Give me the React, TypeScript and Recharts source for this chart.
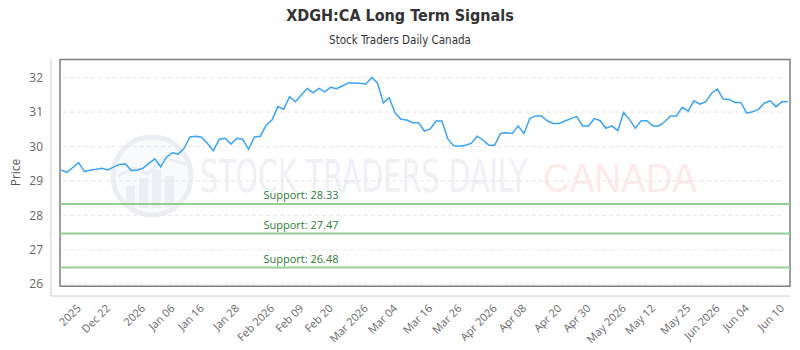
import {
  Line,
  LineChart,
  ReferenceArea,
  ReferenceLine,
  XAxis,
  YAxis,
} from 'recharts'

// closing prices, one per trading day
const prices = [
  29.32, 29.25, 29.39, 29.53, 29.27, 29.32, 29.34, 29.37, 29.32, 29.41,
  29.48, 29.49, 29.3, 29.32, 29.37, 29.51, 29.64, 29.41, 29.69, 29.82,
  29.78, 29.95, 30.28, 30.3, 30.27, 30.09, 29.88, 30.21, 30.24, 30.07,
  30.24, 30.21, 29.92, 30.28, 30.3, 30.62, 30.77, 31.16, 31.08, 31.45,
  31.3, 31.5, 31.69, 31.56, 31.69, 31.59, 31.72, 31.68, 31.76, 31.85,
  31.85, 31.84, 31.81, 32.01, 31.85, 31.27, 31.42, 30.98, 30.79, 30.77,
  30.69, 30.69, 30.45, 30.51, 30.74, 30.74, 30.22, 30.02, 30.01, 30.04,
  30.09, 30.3, 30.19, 30.04, 30.04, 30.38, 30.4, 30.38, 30.6, 30.38,
  30.82, 30.89, 30.89, 30.74, 30.67, 30.67, 30.74, 30.81, 30.87, 30.6,
  30.6, 30.81, 30.75, 30.53, 30.6, 30.46, 30.99, 30.79, 30.53, 30.75,
  30.75, 30.6, 30.6, 30.72, 30.89, 30.89, 31.14, 31.03, 31.33, 31.23,
  31.3, 31.55, 31.67, 31.38, 31.37, 31.28, 31.28, 30.97, 31.01, 31.08,
  31.26, 31.33, 31.16, 31.3, 31.3,
]

const tickLabels = [
  '2025', 'Dec 22', '2026', 'Jan 06', 'Jan 16', 'Jan 28', 'Feb 2026', 'Feb 09',
  'Feb 20', 'Mar 2026', 'Mar 04', 'Mar 16', 'Mar 26', 'Apr 2026', 'Apr 08',
  'Apr 20', 'Apr 30', 'May 2026', 'May 12', 'May 25', 'Jun 2026', 'Jun 04', 'Jun 10',
]
// index of the day each label sits on
const tickIdx = [3, 8, 14, 19, 24, 30, 36, 41, 46, 52, 57, 63, 68, 74, 79, 85, 90, 96, 101, 107, 112, 117, 123]

const supports = [28.33, 27.47, 26.48]
const yTicks = [26, 27, 28, 29, 30, 31, 32]

const data = prices.map((price, i) => ({ i, price }))

// axis extents (the frame sits a bit inside the axes)
const X_MIN = -1.71
const X_MAX = 124.39
const FRAME_X = -0.17
const Y_MIN = 25.654
const Y_MAX = 32.53
const FRAME_Y = 25.94

const tickFont = '"Open Sans", sans-serif'
const titleFont = '"Liberation Sans Narrow", "DejaVu Sans Condensed", sans-serif'

function XTick({ x, y, payload }: any) {
  const k = tickIdx.indexOf(payload.value)
  const tx = x + 3
  const ty = y + 5
  return (
    <text
      x={tx}
      y={ty}
      transform={`rotate(-45 ${tx} ${ty})`}
      textAnchor="end"
      fontSize={11}
      fontFamily={tickFont}
      fill="#666"
    >
      {k >= 0 ? tickLabels[k] : ''}
    </text>
  )
}

function SupportLabel({ viewBox, text }: any) {
  const x = (viewBox?.x ?? 60) + 241
  const y = viewBox?.y ?? 0
  return (
    <text x={x} y={y - 5} textAnchor="middle" fontSize={11} fontFamily={tickFont} fill="#2e7d32">
      {text}
    </text>
  )
}

function PriceLabel({ viewBox }: any) {
  const x = (viewBox?.x ?? 0) + 20
  const y = (viewBox?.y ?? 59.5) + 113
  return (
    <text x={x} y={y} transform={`rotate(-90 ${x} ${y})`} textAnchor="middle" fontSize={12} fontFamily={tickFont} fill="#555">
      Price
    </text>
  )
}

function Watermark() {
  return (
    <svg width={800} height={350} style={{ position: 'absolute', left: 0, top: 0 }}>
      <circle cx={152} cy={176} r={39} fill="#f9fafc" stroke="#eceef3" strokeWidth={5} />
      <rect x={126} y={186} width={9} height={20} fill="#eceef3" />
      <rect x={139} y={178} width={9} height={30} fill="#eceef3" />
      <rect x={152} y={170} width={9} height={38} fill="#eceef3" />
      <rect x={165} y={176} width={9} height={31} fill="#eceef3" />
      <polyline points="118,176 134,168 148,174 164,158 186,164" fill="none" stroke="#eceef3" strokeWidth={3} />
      <text x={200} y={192} fontSize={44} fontFamily={titleFont} fill="#eff1f5" textLength={327} lengthAdjust="spacingAndGlyphs">
        STOCK TRADERS DAILY
      </text>
      <text x={543} y={192} fontSize={40} fontFamily='"Liberation Sans", sans-serif' fill="#fdeaea" textLength={154} lengthAdjust="spacingAndGlyphs">
        CANADA
      </text>
    </svg>
  )
}

export default function App() {
  return (
    <div style={{ position: 'absolute', left: 0, top: 0, width: 800, height: 350, background: '#fff' }}>
      <Watermark />
      <div
        style={{
          position: 'absolute', left: 0, top: 6, width: 800, textAlign: 'center',
          fontFamily: titleFont, fontWeight: 'bold', fontSize: 16, color: '#333',
        }}
      >
        XDGH:CA Long Term Signals
      </div>
      <div
        style={{
          position: 'absolute', left: 0, top: 33, width: 800, textAlign: 'center',
          fontFamily: titleFont, fontSize: 11.5, color: '#333',
        }}
      >
        Stock Traders Daily Canada
      </div>
      <div style={{ position: 'absolute', left: 0, top: 0 }}>
        <LineChart width={800} height={350} data={data} margin={{ top: 59.5, right: 10, bottom: 0, left: 0 }}>
          <XAxis
            dataKey="i"
            type="number"
            domain={[X_MIN, X_MAX]}
            allowDataOverflow
            ticks={tickIdx}
            interval={0}
            tick={<XTick />}
            tickLine={false}
            axisLine={{ stroke: '#ccc' }}
            height={54}
          />
          <YAxis
            type="number"
            domain={[Y_MIN, Y_MAX]}
            allowDataOverflow
            ticks={yTicks}
            interval={0}
            width={51}
            tickLine={false}
            axisLine={{ stroke: '#ccc' }}
            tick={{ fontSize: 12, fill: '#666', fontFamily: tickFont }}
            label={<PriceLabel />}
          />
          {yTicks.map((t) => (
            <ReferenceLine
              key={t}
              segment={[{ x: 0.34, y: t }, { x: 123.2, y: t }]}
              stroke="#e6e6e6"
              strokeDasharray="4 3"
            />
          ))}
          <ReferenceArea
            x1={FRAME_X}
            x2={X_MAX}
            y1={FRAME_Y}
            y2={Y_MAX}
            fill="none"
            fillOpacity={0}
            stroke="#7f7f7f"
            strokeWidth={1.5}
            ifOverflow="visible"
          />
          {supports.map((s) => (
            <ReferenceLine
              key={s}
              segment={[{ x: FRAME_X, y: s }, { x: X_MAX, y: s }]}
              stroke="#93cf93"
              strokeWidth={2}
              label={<SupportLabel text={`Support: ${s.toFixed(2)}`} />}
            />
          ))}
          <Line
            dataKey="price"
            stroke="#3ba3f7"
            strokeWidth={1.5}
            dot={false}
            isAnimationActive={false}
          />
        </LineChart>
      </div>
    </div>
  )
}
